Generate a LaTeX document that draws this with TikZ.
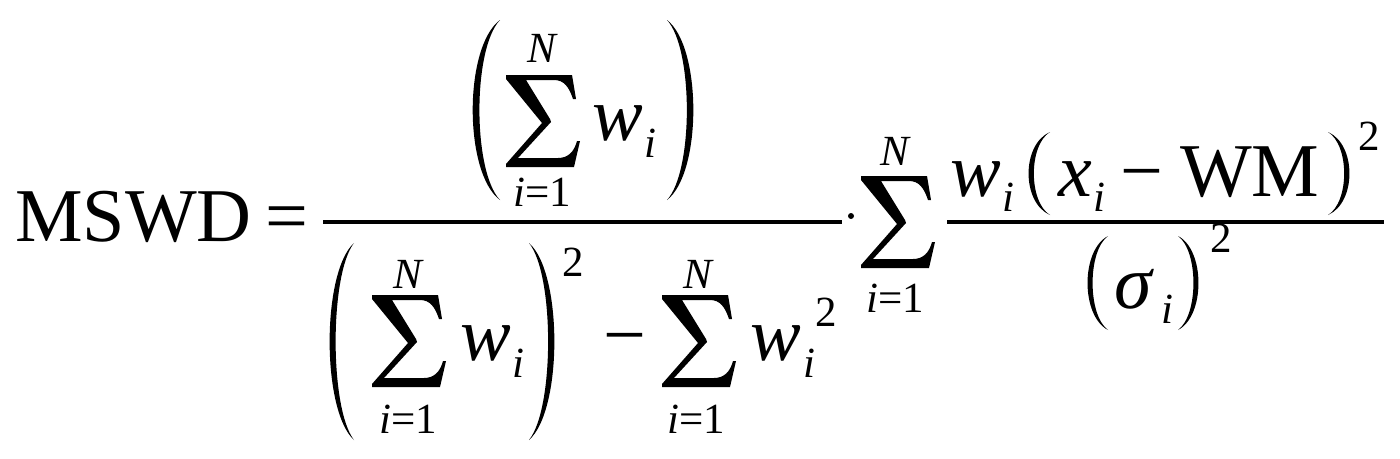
\documentclass[tikz,border=0pt]{standalone}
\usepackage{fontspec}
\setmainfont{Liberation Serif}
\usepackage{tikz}
\usetikzlibrary{calc}

\tikzset{
  big/.style={font=\fontsize{76}{80}\selectfont, inner sep=0pt, anchor=base west},
  bigit/.style={big, font=\fontsize{76}{80}\selectfont\itshape},
  small/.style={font=\fontsize{43}{46}\selectfont, inner sep=0pt, anchor=base west},
  smallit/.style={small, font=\fontsize{43}{46}\selectfont\itshape},
  limit/.style={small, anchor=base},
  fracbar/.style={line width=3.6pt},
  lparen/.pic={\fill (1,0) .. controls (-0.3,0.15) and (-0.3,0.85) .. (1,1)
     .. controls (0.02,0.84) and (0.02,0.16) .. (1,0) -- cycle;},
  rparen/.pic={\fill (0,0) .. controls (1.3,0.15) and (1.3,0.85) .. (0,1)
     .. controls (0.98,0.84) and (0.98,0.16) .. (0,0) -- cycle;},
  bigsum/.pic={\fill (0,0) -- (66,0) -- (70,24) -- (67,24) .. controls (63,12) and (58,5) .. (48,5)
     -- (20,5) -- (44,44) -- (45,47) -- (12,83) -- (52,83) .. controls (62,83) and (68,77) .. (71,66)
     -- (74,66) -- (68,92) -- (0,92) -- (0,89) -- (36,48) -- (0,4) -- cycle;}
}

\begin{document}
\begin{tikzpicture}[x=1pt,y=-1pt]
\useasboundingbox (0,0) rectangle (1400,458);
% left side
\node[big] (mswd) at (15,241) {MSWD};
\node[big] (eq) at (265,241) {=};
\draw[fracbar] (323,222) -- (842,222);
% numerator
\pic[shift={(472,20)},xscale=28,yscale=180] {lparen};
\pic[shift={(506,75)}] {bigsum};
\node[limit] (ntop) at (542,62) {\itshape N};
\node[limit] (nbot) at (542,206) {{\itshape i}=1};
\node[bigit] (nw) at (592,140) {w};
\node[smallit] (ni) at (644,157) {i};
\pic[shift={(667,20)},xscale=27,yscale=180] {rparen};
% denominator
\pic[shift={(329,243)},xscale=25,yscale=197] {lparen};
\pic[shift={(372,295)}] {bigsum};
\node[limit] (dtopa) at (408,288) {\itshape N};
\node[limit] (dbota) at (408,433) {{\itshape i}=1};
\node[bigit] (dwa) at (460,360) {w};
\node[smallit] (dia) at (512,377) {i};
\pic[shift={(529,243)},xscale=26,yscale=197] {rparen};
\node[small] (dsqa) at (562,276) {2};
\node[big] (dminus) at (603,360) {−};
\pic[shift={(662,295)}] {bigsum};
\node[limit] (dtopb) at (698,288) {\itshape N};
\node[limit] (dbotb) at (696,433) {{\itshape i}=1};
\node[bigit] (dwb) at (750,360) {w};
\node[smallit] (dib) at (803,377) {i};
\node[small] (dsqb) at (815,326) {2};
% product and second sum
\fill (851,216) circle (3);
\pic[shift={(861,176)}] {bigsum};
\node[limit] (rtop) at (895,165) {\itshape N};
\node[limit] (rbot) at (895,312) {{\itshape i}=1};
\draw[fracbar] (947,222) -- (1384,222);
% right numerator
\node[bigit] (rw) at (950,196) {w};
\node[smallit] (rwi) at (1002,211) {i};
\pic[shift={(1028,132)},xscale=22,yscale=83] {lparen};
\node[bigit] (rx) at (1058,196) {x};
\node[smallit] (rxi) at (1093,211) {i};
\node[big] (rminus) at (1120,196) {−};
\node[big] (rwm) at (1180,196) {WM};
\pic[shift={(1328,132)},xscale=22,yscale=83] {rparen};
\node[small] (rsq) at (1358,150) {2};
% right denominator
\pic[shift={(1087,236)},xscale=21,yscale=94] {lparen};
\node[bigit] (rsig) at (1114,308) {σ};
\node[smallit] (rsigi) at (1161,323) {i};
\pic[shift={(1178,236)},xscale=21,yscale=94] {rparen};
\node[small] (rsigsq) at (1210,252) {2};
\end{tikzpicture}
\end{document}
